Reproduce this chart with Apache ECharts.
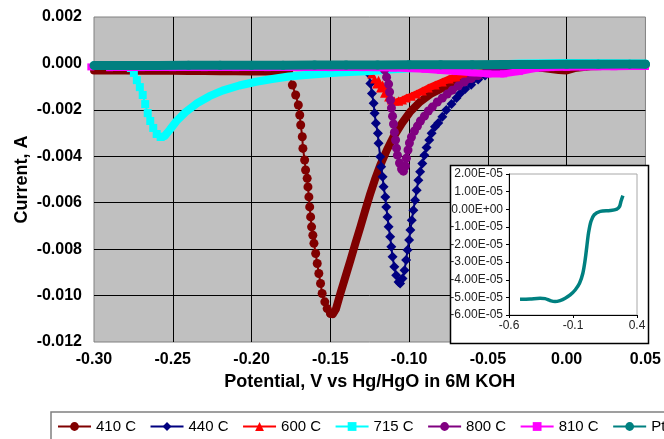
<!DOCTYPE html>
<html>
<head>
<meta charset="utf-8">
<script src="https://cdn.jsdelivr.net/npm/echarts@6/dist/echarts.min.js"></script>
<style>
  html, body { margin: 0; padding: 0; background: #fff; }
  #chart { width: 664px; height: 439px; }
</style>
</head>
<body>
<div id="chart"></div>
<script>
// Axis ranges and tick steps
const potentialRange = [-0.30, 0.05];
const potentialStep = 0.05;
const currentRange = [-0.012, 0.002];
const currentStep = 0.002;
const insetPotentialRange = [-0.6, 0.4];
const insetPotentialStep = 0.5;
const insetCurrentRange = [-6e-5, 2e-5];
const insetCurrentStep = 1e-5;

const seriesNames = ['410 C', '440 C', '600 C', '715 C', '800 C', '810 C', 'Pt'];

// Sweep data: [potential V, current A]
// 410 C
const t410Flat = [[-0.300,-0.00030],[-0.290,-0.00030],[-0.280,-0.00031],[-0.270,-0.00031],[-0.260,-0.00032],[-0.250,-0.00032],[-0.240,-0.00033],[-0.230,-0.00033],[-0.220,-0.00034],[-0.210,-0.00034],[-0.200,-0.00035],[-0.190,-0.00035],[-0.180,-0.00036],[-0.178,-0.00037]];
const t410Drop = [[-0.1780,-0.00037],[-0.1762,-0.00043],[-0.1741,-0.00093],[-0.1720,-0.00136],[-0.1703,-0.00179],[-0.1694,-0.00222],[-0.1688,-0.00265],[-0.1678,-0.00316],[-0.1674,-0.00366],[-0.1663,-0.00416],[-0.1657,-0.00459],[-0.1647,-0.00495],[-0.1642,-0.00532],[-0.1636,-0.00575],[-0.1631,-0.00618],[-0.1625,-0.00661],[-0.1619,-0.00704],[-0.1611,-0.00740],[-0.1604,-0.00775],[-0.1593,-0.00819],[-0.1583,-0.00862],[-0.1573,-0.00905],[-0.1562,-0.00948],[-0.1552,-0.00991],[-0.1535,-0.01027],[-0.1520,-0.01056],[-0.1499,-0.01077]];
const t410Recovery = [[-0.1499,-0.01077],[-0.1484,-0.01080],[-0.1465,-0.01059],[-0.1436,-0.00991],[-0.1404,-0.00919],[-0.1372,-0.00847],[-0.1341,-0.00775],[-0.1309,-0.00704],[-0.1278,-0.00632],[-0.1246,-0.00560],[-0.1214,-0.00495],[-0.1183,-0.00438],[-0.1141,-0.00373],[-0.1099,-0.00316],[-0.1046,-0.00258],[-0.0993,-0.00208],[-0.0930,-0.00165],[-0.0857,-0.00129],[-0.0772,-0.00100],[-0.0688,-0.00075],[-0.0604,-0.00057],[-0.0520,-0.00046]];
const t410Tail = [[-0.0450,-0.00030],[-0.0350,-0.00022],[-0.0250,-0.00018],[-0.0150,-0.00020],[-0.0050,-0.00028],[0.0000,-0.00030],[0.0050,-0.00020],[0.0150,-0.00012],[0.0300,-0.00010],[0.0500,-0.00010]];

// 440 C
const t440Flat = [[-0.300,-0.00010],[-0.250,-0.00010],[-0.200,-0.00010],[-0.150,-0.00010],[-0.1275,-0.00012]];
const t440Dip = [[-0.1275,-0.00012],[-0.1257,-0.00043],[-0.1246,-0.00086],[-0.1236,-0.00129],[-0.1225,-0.00172],[-0.1219,-0.00215],[-0.1211,-0.00258],[-0.1198,-0.00301],[-0.1194,-0.00344],[-0.1183,-0.00402],[-0.1177,-0.00445],[-0.1168,-0.00488],[-0.1162,-0.00531],[-0.1151,-0.00575],[-0.1145,-0.00618],[-0.1137,-0.00661],[-0.1130,-0.00704],[-0.1120,-0.00747],[-0.1113,-0.00790],[-0.1105,-0.00833],[-0.1094,-0.00876],[-0.1082,-0.00912],[-0.1067,-0.00941],[-0.1057,-0.00948],[-0.1042,-0.00926],[-0.1029,-0.00891],[-0.1019,-0.00847],[-0.1010,-0.00804],[-0.1000,-0.00761],[-0.0992,-0.00718],[-0.0983,-0.00675],[-0.0973,-0.00632],[-0.0962,-0.00589],[-0.0952,-0.00546],[-0.0941,-0.00503],[-0.0930,-0.00467],[-0.0916,-0.00431],[-0.0903,-0.00395],[-0.0889,-0.00362],[-0.0872,-0.00330],[-0.0857,-0.00301],[-0.0836,-0.00273],[-0.0815,-0.00257],[-0.0789,-0.00230],[-0.0764,-0.00201],[-0.0731,-0.00175],[-0.0699,-0.00149],[-0.0676,-0.00129],[-0.0644,-0.00110],[-0.0606,-0.00092],[-0.0562,-0.00069],[-0.0518,-0.00052],[-0.0467,-0.00037],[-0.0404,-0.00026],[-0.0341,-0.00020]];
const t440Tail = [[-0.0341,-0.00020],[-0.0250,-0.00015],[-0.0100,-0.00012],[0.0100,-0.00010],[0.0500,-0.00010]];

// 600 C
const t600Flat = [[-0.300,-0.00010],[-0.200,-0.00010],[-0.127,-0.00010]];
const t600Drop = [[-0.1270,-0.00010],[-0.1257,-0.00028],[-0.1238,-0.00046],[-0.1219,-0.00067],[-0.1206,-0.00089],[-0.1194,-0.00072],[-0.1181,-0.00106],[-0.1168,-0.00093],[-0.1156,-0.00128],[-0.1143,-0.00115],[-0.1130,-0.00145],[-0.1112,-0.00158],[-0.1093,-0.00162],[-0.1067,-0.00162]];
const t600Recovery = [[-0.1067,-0.00162],[-0.1042,-0.00158],[-0.1017,-0.00149],[-0.0985,-0.00141],[-0.0954,-0.00132],[-0.0916,-0.00119],[-0.0878,-0.00106],[-0.0834,-0.00093],[-0.0789,-0.00080],[-0.0745,-0.00067],[-0.0701,-0.00059],[-0.0650,-0.00046],[-0.0600,-0.00033],[-0.0543,-0.00024],[-0.0486,-0.00016],[-0.0423,-0.00011],[-0.0341,-0.00010]];
const t600Tail = [[-0.0341,-0.00010],[0.0000,-0.00010],[0.0500,-0.00010]];

// 715 C
const t715Flat = [[-0.300,-0.00008],[-0.290,-0.00008],[-0.278,-0.00010]];
const t715Drop = [[-0.2780,-0.00010],[-0.2766,-0.00020],[-0.2747,-0.00041],[-0.2728,-0.00072],[-0.2709,-0.00102],[-0.2691,-0.00136],[-0.2675,-0.00175],[-0.2659,-0.00214],[-0.2643,-0.00248],[-0.2624,-0.00278],[-0.2602,-0.00304],[-0.2577,-0.00317]];
const t715Recovery = [[-0.2577,-0.00317],[-0.2552,-0.00313],[-0.2520,-0.00287],[-0.2476,-0.00248],[-0.2419,-0.00210],[-0.2349,-0.00173],[-0.2267,-0.00141],[-0.2185,-0.00117],[-0.2078,-0.00095],[-0.1971,-0.00079],[-0.1869,-0.00067],[-0.1762,-0.00056],[-0.1655,-0.00050],[-0.1554,-0.00044],[-0.1446,-0.00039],[-0.1339,-0.00036],[-0.1238,-0.00033]];
const t715Tail = [[-0.1100,-0.00025],[-0.0900,-0.00018],[-0.0600,-0.00010],[-0.0300,0.00000],[0.0000,0.00002],[0.0300,0.00001],[0.0500,0.00000]];

// 800 C
const t800Flat = [[-0.300,-0.00010],[-0.200,-0.00010],[-0.117,-0.00010]];
const t800Dip = [[-0.1170,-0.00010],[-0.1156,-0.00028],[-0.1143,-0.00059],[-0.1130,-0.00089],[-0.1124,-0.00123],[-0.1118,-0.00158],[-0.1112,-0.00192],[-0.1105,-0.00227],[-0.1099,-0.00261],[-0.1093,-0.00296],[-0.1086,-0.00330],[-0.1080,-0.00365],[-0.1074,-0.00395],[-0.1061,-0.00429],[-0.1048,-0.00455],[-0.1036,-0.00464],[-0.1023,-0.00442],[-0.1017,-0.00408],[-0.1007,-0.00373],[-0.0998,-0.00343],[-0.0985,-0.00317],[-0.0966,-0.00291],[-0.0947,-0.00270],[-0.0928,-0.00248],[-0.0903,-0.00227],[-0.0878,-0.00205],[-0.0853,-0.00188],[-0.0821,-0.00166],[-0.0789,-0.00149],[-0.0758,-0.00132],[-0.0726,-0.00115],[-0.0688,-0.00097],[-0.0650,-0.00080],[-0.0606,-0.00065],[-0.0562,-0.00052],[-0.0512,-0.00039],[-0.0455,-0.00028],[-0.0392,-0.00020],[-0.0309,-0.00013]];
const t800Tail = [[-0.0309,-0.00013],[0.0000,-0.00010],[0.0500,-0.00010]];

// 810 C
const t810 = [[-0.302,-0.00015],[-0.290,-0.00018],[-0.270,-0.00018],[-0.250,-0.00018],[-0.230,-0.00018],[-0.210,-0.00018],[-0.190,-0.00018],[-0.170,-0.00018],[-0.150,-0.00018],[-0.130,-0.00018],[-0.110,-0.00020],[-0.090,-0.00025],[-0.080,-0.00030],[-0.070,-0.00035],[-0.060,-0.00040],[-0.050,-0.00045],[-0.040,-0.00045],[-0.030,-0.00035],[-0.020,-0.00022],[-0.010,-0.00018],[0.000,-0.00016],[0.010,-0.00015],[0.020,-0.00014],[0.030,-0.00014],[0.040,-0.00013],[0.050,-0.00013]];

// Pt
const tPt = [[-0.300,-0.00009],[-0.280,-0.00009],[-0.260,-0.00009],[-0.240,-0.00008],[-0.220,-0.00008],[-0.200,-0.00008],[-0.180,-0.00008],[-0.160,-0.00007],[-0.140,-0.00007],[-0.120,-0.00007],[-0.100,-0.00006],[-0.080,-0.00006],[-0.060,-0.00006],[-0.040,-0.00005],[-0.020,-0.00005],[0.000,-0.00004],[0.020,-0.00004],[0.040,-0.00003],[0.050,-0.00003]];

// Pt inset sweep: [potential V, current A]
const ptInset = [[-0.514,-5.11e-5],[-0.436,-5.09e-5],[-0.357,-5.05e-5],[-0.318,-5.07e-5],[-0.279,-5.18e-5],[-0.240,-5.24e-5],[-0.201,-5.18e-5],[-0.161,-5.05e-5],[-0.122,-4.86e-5],[-0.083,-4.58e-5],[-0.049,-4.20e-5],[-0.023,-3.63e-5],[-0.005,-2.87e-5],[0.008,-2.11e-5],[0.021,-1.36e-5],[0.040,-0.69e-5],[0.066,-0.31e-5],[0.113,-0.12e-5],[0.191,-0.07e-5],[0.243,0.01e-5],[0.264,0.16e-5],[0.275,0.45e-5],[0.290,0.77e-5]];

const FONT = '"Liberation Sans", Arial, Helvetica, sans-serif';
const palette = {
  '410 C': '#800000', '440 C': '#000080', '600 C': '#FF0000', '715 C': '#00FFFF',
  '800 C': '#800080', '810 C': '#FF00FF', 'Pt': '#008080'
};

// break a thick trace between separate runs
function joinRuns(...runs) {
  const out = [];
  runs.forEach((run, i) => {
    if (i > 0) out.push([run[0][0], null]);
    run.forEach(p => out.push(p));
  });
  return out;
}

function markerSeries(name, symbol, size, data, z, clip) {
  const c = palette[name];
  return {
    type: 'line', name, data, z, symbol, symbolSize: size, showSymbol: true,
    clip: clip !== false,
    itemStyle: { color: c }, lineStyle: { color: c, width: 2 },
    emphasis: { disabled: true }, animation: false
  };
}
function bandSeries(name, width, data, z) {
  const c = palette[name];
  return {
    type: 'line', name, data, z, symbol: 'none', silent: true,
    itemStyle: { color: c }, lineStyle: { color: c, width, cap: 'round', join: 'round' },
    emphasis: { disabled: true }, animation: false
  };
}

const series = [
  markerSeries('410 C', 'circle', 9, t410Drop, 11),
  bandSeries('410 C', 8, joinRuns(t410Flat, t410Recovery.concat(t410Tail)), 10),
  markerSeries('440 C', 'diamond', 10, t440Dip, 13),
  bandSeries('440 C', 7, joinRuns(t440Flat, t440Tail), 12),
  markerSeries('600 C', 'triangle', 9, t600Drop.concat(t600Recovery), 15),
  bandSeries('600 C', 7, joinRuns(t600Flat, t600Recovery.concat(t600Tail)), 14),
  markerSeries('715 C', 'rect', 8, t715Drop, 17),
  bandSeries('715 C', 8, joinRuns(t715Flat, t715Recovery.concat(t715Tail)), 16),
  markerSeries('800 C', 'circle', 9, t800Dip, 19),
  bandSeries('800 C', 6, joinRuns(t800Flat, t800Dip.slice(21).concat(t800Tail)), 18),
  markerSeries('810 C', 'rect', 7, t810.slice(0, 2), 21, false),
  markerSeries('810 C', 'rect', 7, t810.slice(1), 21),
  bandSeries('810 C', 7, t810.slice(1), 20),
  markerSeries('Pt', 'circle', 9, tPt.slice(1), 23),
  bandSeries('Pt', 9, tPt, 22),
  {
    type: 'line', name: 'Pt inset', data: ptInset, xAxisIndex: 1, yAxisIndex: 1, z: 62,
    symbol: 'none', smooth: 0.3, lineStyle: { color: '#008080', width: 3.5 },
    emphasis: { disabled: true }, animation: false, silent: true
  }
];

function sciLabel(v) {
  const r = Math.round(v * 1e9) / 1e9;
  if (Math.abs(r) < 1e-12) return '0.00E+00';
  const e = Math.floor(Math.log10(Math.abs(r)) + 1e-9);
  const m = r / Math.pow(10, e);
  const ea = Math.abs(e);
  return m.toFixed(2) + 'E' + (e < 0 ? '-' : '+') + (ea < 10 ? '0' + ea : ea);
}

const chart = echarts.init(document.getElementById('chart'), null, { renderer: 'canvas' });
chart.setOption({
  animation: false,
  backgroundColor: '#ffffff',
  textStyle: { fontFamily: FONT },
  grid: [
    { left: 94, top: 17, width: 554, height: 325, show: true, backgroundColor: '#C0C0C0',
      borderColor: '#808080', borderWidth: 1, z: 0 },
    { left: 509, top: 174, width: 128, height: 141, show: true, backgroundColor: '#ffffff',
      borderColor: '#a8a8a8', borderWidth: 1, z: 60 }
  ],
  graphic: [{
    type: 'rect', z: 50, silent: true,
    shape: { x: 450.5, y: 165.5, width: 198, height: 178 },
    style: { fill: '#ffffff', stroke: '#000000', lineWidth: 1.5 }
  }],
  xAxis: [
    {
      type: 'value', gridIndex: 0, min: potentialRange[0], max: potentialRange[1], interval: potentialStep,
      name: 'Potential, V vs Hg/HgO in 6M KOH', nameLocation: 'middle', nameGap: 29,
      nameTextStyle: { fontFamily: FONT, fontSize: 18, fontWeight: 'bold', color: '#000' },
      axisLine: { show: false }, axisTick: { show: false },
      axisLabel: { fontFamily: FONT, fontSize: 16, fontWeight: 'bold', color: '#000', margin: 10,
        formatter: v => Math.abs(v) < 1e-9 ? '0.00' : v.toFixed(2) },
      splitLine: { show: true, showMinLine: false, showMaxLine: false, lineStyle: { color: '#000', width: 1 } }
    },
    {
      type: 'value', gridIndex: 1, min: insetPotentialRange[0], max: insetPotentialRange[1], interval: insetPotentialStep,
      z: 61,
      axisLine: { show: true, onZero: false, lineStyle: { color: '#000', width: 1 } },
      axisTick: { show: true, length: 3, lineStyle: { color: '#000' } },
      axisLabel: { fontFamily: FONT, fontSize: 12, color: '#222', margin: 5,
        formatter: v => Math.abs(v) < 1e-9 ? '0' : String(Math.round(v * 10) / 10) },
      splitLine: { show: false }
    }
  ],
  yAxis: [
    {
      type: 'value', gridIndex: 0, min: currentRange[0], max: currentRange[1], interval: currentStep,
      name: 'Current, A', nameLocation: 'middle', nameGap: 63, nameRotate: 90, nameMoveOverlap: false,
      nameTextStyle: { fontFamily: FONT, fontSize: 18, fontWeight: 'bold', color: '#000' },
      axisLine: { show: false }, axisTick: { show: false },
      axisLabel: { fontFamily: FONT, fontSize: 16, fontWeight: 'bold', color: '#000', margin: 12,
        formatter: v => Math.abs(v) < 1e-9 ? '0.000' : v.toFixed(3) },
      splitLine: { show: true, showMinLine: false, showMaxLine: false, lineStyle: { color: '#000', width: 1 } }
    },
    {
      type: 'value', gridIndex: 1, min: insetCurrentRange[0], max: insetCurrentRange[1], interval: insetCurrentStep,
      z: 61,
      axisLine: { show: true, onZero: false, lineStyle: { color: '#000', width: 1 } },
      axisTick: { show: true, length: 3, lineStyle: { color: '#000' } },
      axisLabel: { fontFamily: FONT, fontSize: 12, color: '#222', margin: 6, formatter: sciLabel },
      splitLine: { show: false }
    }
  ],
  legend: {
    data: seriesNames,
    left: 51, top: 412, width: 700,
    orient: 'horizontal',
    padding: [7, 8, 10, 6],
    itemWidth: 33, itemHeight: 11, itemGap: 13.5,
    backgroundColor: '#ffffff', borderColor: '#808080', borderWidth: 1.5,
    textStyle: { fontFamily: FONT, fontSize: 15, color: '#000' },
    selectedMode: false
  },
  series
});
</script>
</body>
</html>
